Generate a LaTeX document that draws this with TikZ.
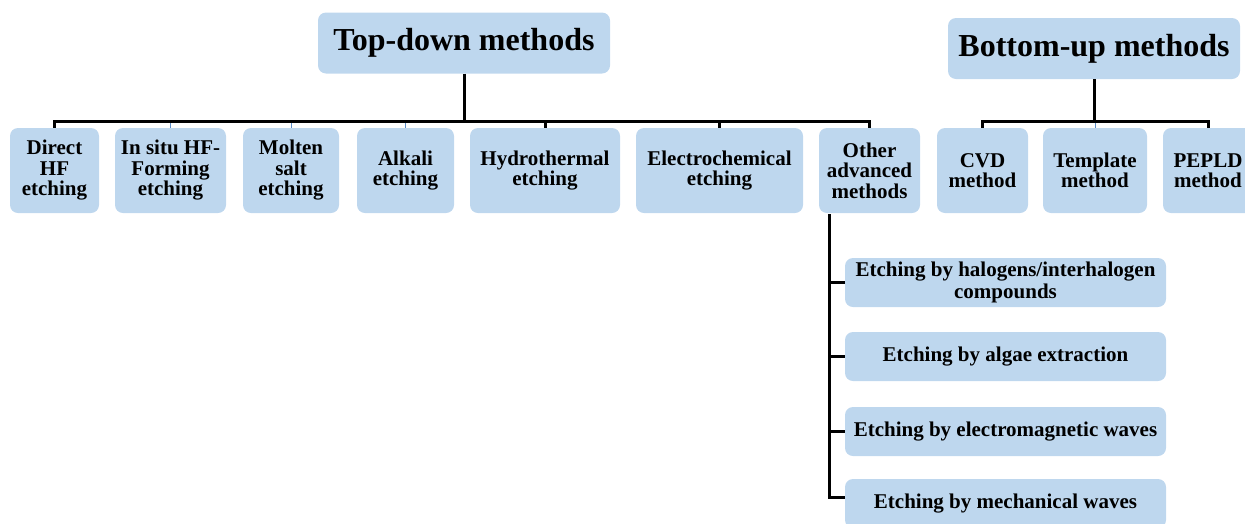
\documentclass[tikz,border=0pt]{standalone}
\usepackage{fontspec}
\setmainfont{Liberation Serif}
\usepackage{tikz}
\usepackage{xcolor}
\definecolor{boxblue}{RGB}{190,215,238}
\definecolor{tickblue}{RGB}{91,140,200}
\tikzset{>=latex}
\tikzset{
  box/.style={fill=boxblue, rounded corners=8pt, inner sep=0pt, align=center,
    font=\fontsize{21pt}{20.5pt}\selectfont\bfseries},
  head/.style={box, minimum width=292pt, minimum height=61pt,
    font=\fontsize{32pt}{34pt}\selectfont\bfseries},
  leaf/.style={box, minimum height=85pt},
  sub/.style={box, minimum width=321pt, minimum height=49pt,
    font=\fontsize{21pt}{22pt}\selectfont\bfseries},
  bus/.style={line width=3pt, black},
  thin/.style={line width=0.8pt, tickblue}
}

\begin{document}
\begin{tikzpicture}[x=1pt,y=1pt]
  \clip (0,0) rectangle (1245,-523);
  \node[head] (td) at (464,-43) {Top-down methods};
  \node[head] (bu) at (1094,-48.5) {Bottom-up methods};

  \node[leaf, minimum width=89pt] (direct) at (54.5,-170.5) {Direct\\HF\\etching};
  \node[leaf, minimum width=111pt] (insitu) at (170.5,-170.5) {In situ HF-\\Forming\\etching};
  \node[leaf, minimum width=96pt] (molten) at (291,-170.5) {Molten\\salt\\etching};
  \node[leaf, minimum width=97pt] (alkali) at (405.5,-170.5) {Alkali\\etching};
  \node[leaf, minimum width=150pt] (hydro) at (545,-170.5) {Hydrothermal\\etching};
  \node[leaf, minimum width=167pt] (electro) at (719.5,-170.5) {Electrochemical\\etching};
  \node[leaf, minimum width=101pt] (other) at (869.5,-170.5) {Other\\advanced\\methods};
  \node[leaf, minimum width=91pt] (cvd) at (982.5,-170.5) {CVD\\method};
  \node[leaf, minimum width=104pt] (templ) at (1095,-170.5) {Template\\method};
  \node[leaf, minimum width=90pt] (pepld) at (1208,-170.5) {PEPLD\\method};

  \node[sub] (sub1) at (1005.5,-282.5) {Etching by halogens/interhalogen\\compounds};
  \node[sub] (sub2) at (1005.5,-356.5) {Etching by algae extraction};
  \node[sub] (sub3) at (1005.5,-431.5) {Etching by electromagnetic waves};
  \node[sub] (sub4) at (1005.5,-503.5) {Etching by mechanical waves};

  \coordinate (tdbus) at (464,-121);
  \coordinate (bubus) at (1094,-121);
  \coordinate (otop) at (829,-214);

  \draw[bus] (td.south) -- (tdbus);
  \draw[bus] (direct.north) |- (tdbus) -| (other.north);
  \foreach \n in {hydro,electro}
    \draw[bus] (\n.north) -- (\n.north |- tdbus);
  \foreach \n in {insitu,molten,alkali}
    \draw[thin] (\n.north) -- ([yshift=-1.5pt]\n.north |- tdbus);

  \draw[bus] (bu.south) -- (bubus);
  \draw[bus] (cvd.north) |- (bubus) -| (pepld.north);
  \draw[thin] (templ.north) -- ([yshift=-1.5pt]templ.north |- bubus);

  \draw[bus] (otop) |- ([yshift=6pt]sub4.west);
  \foreach \n in {sub1,sub2,sub3}
    \draw[bus] (\n.west) -- (\n.west -| otop);
\end{tikzpicture}
\end{document}
